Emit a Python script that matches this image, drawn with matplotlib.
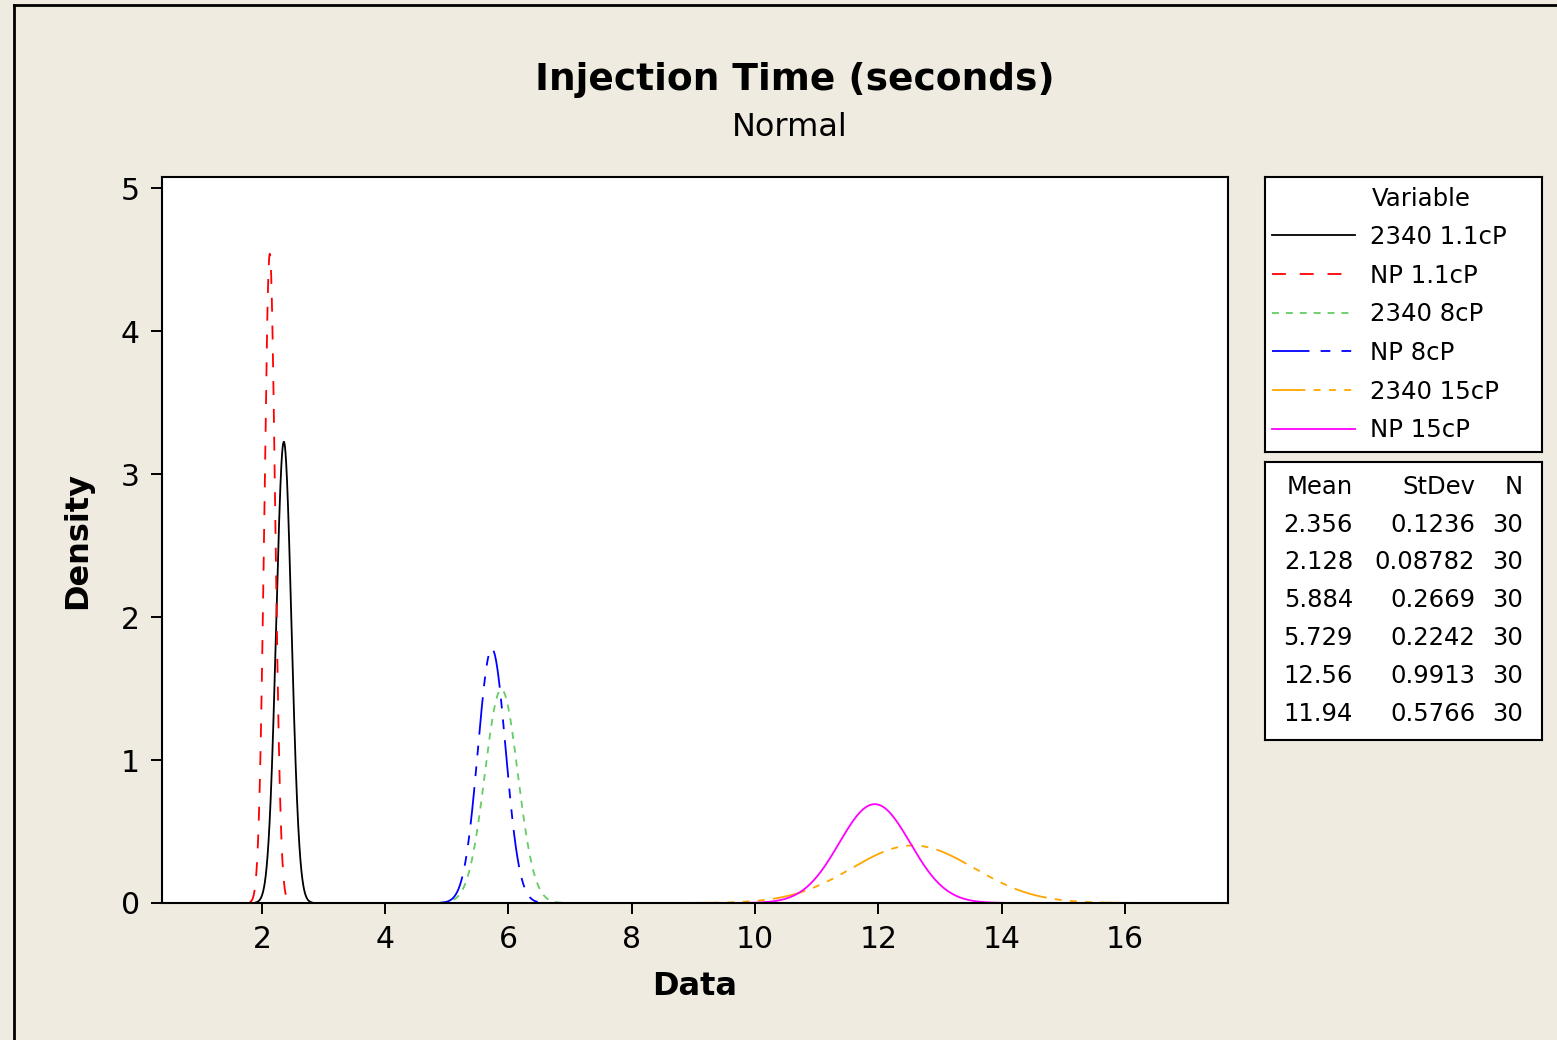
import numpy as np
import matplotlib.pyplot as plt
from matplotlib.lines import Line2D

plt.rcParams['font.family'] = ['DejaVu Sans']
plt.rcParams['lines.scale_dashes'] = False

# fitted normal parameters
labels = ['2340 1.1cP', 'NP 1.1cP', '2340 8cP', 'NP 8cP', '2340 15cP', 'NP 15cP']
means = [2.356, 2.128, 5.884, 5.729, 12.56, 11.94]
stdevs = [0.1236, 0.08782, 0.2669, 0.2242, 0.9913, 0.5766]
counts = [30, 30, 30, 30, 30, 30]
mean_txt = ['2.356', '2.128', '5.884', '5.729', '12.56', '11.94']
sd_txt = ['0.1236', '0.08782', '0.2669', '0.2242', '0.9913', '0.5766']

colors = ['black', '#ff0000', '#66cc66', '#0000ff', '#ffa500', '#ff00ff']
styles = ['-', (0, (10, 10)), (0, (5, 5)), (0, (27, 8, 7, 8, 7, 8)),
          (0, (24, 6, 5, 6, 5, 6, 5, 6)), '-']

W, H = 1557, 1040
bg = '#f0ebe1'
fig = plt.figure(figsize=(W / 100, H / 100), dpi=100, facecolor=bg)

def box(x0, y0, x1, y1):
    return [x0 / W, 1 - y1 / H, (x1 - x0) / W, (y1 - y0) / H]

ax = fig.add_axes(box(162, 177, 1228, 903))
z = 3.719  # 0.0001 .. 0.9999 quantiles
for m, s, c, ls, lab in zip(means, stdevs, colors, styles, labels):
    x = np.linspace(m - z * s, m + z * s, 400)
    y = np.exp(-0.5 * ((x - m) / s) ** 2) / (s * np.sqrt(2 * np.pi))
    ax.plot(x, y, color=c, linestyle=ls, lw=1.3, label=lab)

ax.set_xlim(0.38, 17.67)
ax.set_ylim(0, 5.08)
ax.set_xticks([2, 4, 6, 8, 10, 12, 14, 16])
ax.set_yticks([0, 1, 2, 3, 4, 5])
ax.tick_params(direction='out', length=8, width=1.4, labelsize=21.5, pad=8)
for sp in ax.spines.values():
    sp.set_linewidth(1.5)
ax.set_xlabel('Data', fontsize=23, fontweight='bold', labelpad=12)
ax.set_ylabel('Density', fontsize=23, fontweight='bold', labelpad=20)

fig.text(795 / W, 1 - 80 / H, 'Injection Time (seconds)', ha='center', va='center',
         fontsize=27, fontweight='bold')
fig.text(790 / W, 1 - 127 / H, 'Normal', ha='center', va='center', fontsize=23)

# legend box
lax = fig.add_axes(box(1265, 177, 1542, 452))
lax.set_xticks([])
lax.set_yticks([])
for sp in lax.spines.values():
    sp.set_linewidth(1.5)
handles, hl = ax.get_legend_handles_labels()
leg = lax.legend(handles, hl, loc='upper left', frameon=False,
                 bbox_to_anchor=(7 / 277, 1 - 48 / 275),
                 fontsize=17.6, handlelength=3.4, handletextpad=0.62,
                 labelspacing=0.6, borderaxespad=0.0, borderpad=0.0)
fig.text(1372 / W, 1 - 199 / H, 'Variable', ha='left', va='center', fontsize=17.6)

# statistics table
tax = fig.add_axes(box(1265, 462, 1542, 740))
tax.set_xlim(1265, 1542)
tax.set_ylim(740, 462)
tax.set_xticks([])
tax.set_yticks([])
for sp in tax.spines.values():
    sp.set_linewidth(1.5)
rows_y = [525, 562, 600, 638, 676, 714]
tax.text(1353, 487, 'Mean', ha='right', va='center', fontsize=17.5)
tax.text(1475, 487, 'StDev', ha='right', va='center', fontsize=17.5)
tax.text(1523, 487, 'N', ha='right', va='center', fontsize=17.5)
for yy, mt, st, n in zip(rows_y, mean_txt, sd_txt, counts):
    tax.text(1353, yy, mt, ha='right', va='center', fontsize=17.5)
    tax.text(1475, yy, st, ha='right', va='center', fontsize=17.5)
    tax.text(1523, yy, str(n), ha='right', va='center', fontsize=17.5)

# outer frame (left and top edges visible)
fig.add_artist(Line2D([14 / W, 14 / W], [0, 1 - 5 / H], color='black', lw=2))
fig.add_artist(Line2D([14 / W, 1], [1 - 5 / H, 1 - 5 / H], color='black', lw=2))

fig.savefig('out.png', dpi=100, facecolor=bg)
